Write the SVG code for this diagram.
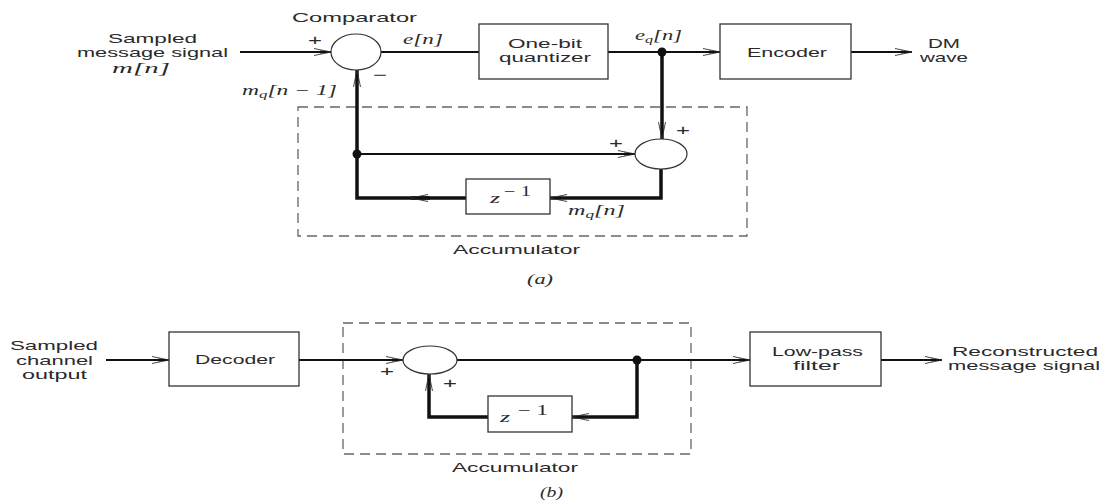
<svg xmlns="http://www.w3.org/2000/svg" width="1104" height="502" viewBox="0 0 1104 502">
<defs>
<style>
.s{font-family:"Liberation Sans",Arial,sans-serif;font-size:13px;fill:#2a2a2a}
.p{font-family:"Liberation Sans",Arial,sans-serif;font-size:15px;fill:#2a2a2a}
.m{font-family:"Liberation Serif","Times New Roman",serif;font-style:italic;font-size:14px;fill:#2a2a2a}
.r{font-family:"Liberation Serif","Times New Roman",serif;font-size:14px;fill:#2a2a2a}
.box{fill:#fff;stroke:#333;stroke-width:1.3}
.sum{fill:#fff;stroke:#333;stroke-width:1.2}
.ln{fill:none;stroke:#111;stroke-width:2}
.tk{fill:none;stroke:#111;stroke-width:3.5}
.dash{fill:none;stroke:#666;stroke-width:1.3;stroke-dasharray:10 6}
</style>
<marker id="ar" viewBox="0 0 18 10" markerWidth="18" markerHeight="10" refX="17" refY="5" orient="auto" markerUnits="userSpaceOnUse">
<path d="M0,1.5 L17,5 L0,8.5" fill="none" stroke="#333" stroke-width="0.9"/>
<path d="M6,3.6 L17,5 L6,6.4 Z" fill="#111"/>
</marker>
</defs>
<rect width="1104" height="502" fill="#fff"/>

<!-- (a) accumulator dashed box -->
<rect id="acc-a" class="dash" x="298" y="107" width="449" height="129"/>
<!-- (b) accumulator dashed box -->
<rect id="acc-b" class="dash" x="343" y="323" width="348" height="131"/>

<g id="connectors">
<!-- (a) -->
<line class="ln" x1="240" y1="52" x2="331" y2="52" marker-end="url(#ar)"/>
<line class="ln" x1="381" y1="52" x2="479" y2="52"/>
<line class="ln" x1="608" y1="52" x2="720" y2="52" marker-end="url(#ar)"/>
<line class="ln" x1="851" y1="52" x2="912" y2="52" marker-end="url(#ar)"/>
<line class="tk" x1="662" y1="52" x2="662" y2="139" marker-end="url(#ar)"/>
<line class="ln" x1="357" y1="154" x2="635" y2="154" marker-end="url(#ar)"/>
<polyline class="tk" points="661,169 661,198 550,198" marker-end="url(#ar)"/>
<polyline class="tk" points="466,198 357,198 357,70" marker-end="url(#ar)"/>
<line class="tk" x1="430" y1="198" x2="411" y2="198" marker-end="url(#ar)"/>
<circle cx="662" cy="52" r="4.5" fill="#111"/>
<circle cx="357" cy="154" r="4.5" fill="#111"/>
<!-- (b) -->
<line class="ln" x1="106" y1="360" x2="169" y2="360" marker-end="url(#ar)"/>
<line class="ln" x1="299" y1="360" x2="403" y2="360" marker-end="url(#ar)"/>
<line class="ln" x1="457" y1="360" x2="750" y2="360" marker-end="url(#ar)"/>
<line class="ln" x1="881" y1="360" x2="942" y2="360" marker-end="url(#ar)"/>
<polyline class="tk" points="637,360 637,417 572,417" marker-end="url(#ar)"/>
<polyline class="tk" points="488,417 429,417 429,374" marker-end="url(#ar)"/>
<circle cx="637" cy="360" r="4.5" fill="#111"/>
</g>

<!-- (a) nodes -->
<g id="comparator">
<ellipse class="sum" cx="356" cy="52" rx="25" ry="18"/>
<text class="s" x="292" y="22" textLength="125" lengthAdjust="spacingAndGlyphs">Comparator</text>
<text class="p" x="308" y="45" textLength="14" lengthAdjust="spacingAndGlyphs">+</text>
<text class="p" x="373" y="80" textLength="14" lengthAdjust="spacingAndGlyphs">−</text>
</g>
<g id="input-a">
<text class="s" x="108" y="43" textLength="89" lengthAdjust="spacingAndGlyphs">Sampled</text>
<text class="s" x="77" y="57" textLength="151" lengthAdjust="spacingAndGlyphs">message signal</text>
<text class="m" x="112" y="73" textLength="58" lengthAdjust="spacingAndGlyphs">m<tspan class="r">[</tspan>n<tspan class="r">]</tspan></text>
</g>
<text class="m" x="403" y="44" textLength="40" lengthAdjust="spacingAndGlyphs">e<tspan class="r">[</tspan>n<tspan class="r">]</tspan></text>
<g id="quantizer">
<rect class="box" x="479" y="24" width="129" height="55"/>
<text class="s" x="508" y="48" textLength="74" lengthAdjust="spacingAndGlyphs">One-bit</text>
<text class="s" x="499" y="62" textLength="92" lengthAdjust="spacingAndGlyphs">quantizer</text>
</g>
<text class="m" x="635" y="40" textLength="47" lengthAdjust="spacingAndGlyphs">e<tspan font-size="10" dy="3">q</tspan><tspan class="r" dy="-3">[</tspan>n<tspan class="r">]</tspan></text>
<g id="encoder">
<rect class="box" x="720" y="24" width="131" height="55"/>
<text class="s" x="747" y="57" textLength="80" lengthAdjust="spacingAndGlyphs">Encoder</text>
</g>
<g id="output-a">
<text class="s" x="928" y="48" textLength="32" lengthAdjust="spacingAndGlyphs">DM</text>
<text class="s" x="920" y="62" textLength="48" lengthAdjust="spacingAndGlyphs">wave</text>
</g>
<text class="m" x="242" y="95" textLength="95" lengthAdjust="spacingAndGlyphs">m<tspan font-size="10" dy="3">q</tspan><tspan class="r" dy="-3">[</tspan>n <tspan class="r">− 1]</tspan></text>
<g id="adder-a">
<ellipse class="sum" cx="661" cy="154" rx="26" ry="15"/>
<text class="p" x="676" y="135" textLength="14" lengthAdjust="spacingAndGlyphs">+</text>
<text class="p" x="609" y="148" textLength="14" lengthAdjust="spacingAndGlyphs">+</text>
</g>
<g id="delay-a">
<rect class="box" x="466" y="179" width="84" height="35"/>
<text class="m" x="490" y="203" textLength="10" lengthAdjust="spacingAndGlyphs">z</text>
<text class="r" x="504" y="196" textLength="27" lengthAdjust="spacingAndGlyphs">− 1</text>
</g>
<text class="m" x="568" y="215" textLength="57" lengthAdjust="spacingAndGlyphs">m<tspan font-size="10" dy="3">q</tspan><tspan class="r" dy="-3">[</tspan>n<tspan class="r">]</tspan></text>
<text class="s" x="453" y="254" textLength="127" lengthAdjust="spacingAndGlyphs">Accumulator</text>
<text class="m" x="527" y="284" textLength="26" lengthAdjust="spacingAndGlyphs"><tspan class="r">(</tspan>a<tspan class="r">)</tspan></text>

<!-- (b) nodes -->
<g id="input-b">
<text class="s" x="10" y="350" textLength="88" lengthAdjust="spacingAndGlyphs">Sampled</text>
<text class="s" x="16" y="365" textLength="77" lengthAdjust="spacingAndGlyphs">channel</text>
<text class="s" x="22" y="379" textLength="65" lengthAdjust="spacingAndGlyphs">output</text>
</g>
<g id="decoder">
<rect class="box" x="169" y="332" width="130" height="54"/>
<text class="s" x="195" y="364" textLength="80" lengthAdjust="spacingAndGlyphs">Decoder</text>
</g>
<g id="adder-b">
<ellipse class="sum" cx="430" cy="360" rx="27" ry="14"/>
<text class="p" x="380" y="376" textLength="14" lengthAdjust="spacingAndGlyphs">+</text>
<text class="p" x="443" y="388" textLength="14" lengthAdjust="spacingAndGlyphs">+</text>
</g>
<g id="delay-b">
<rect class="box" x="488" y="396" width="84" height="36"/>
<text class="m" x="500" y="422" textLength="10" lengthAdjust="spacingAndGlyphs">z</text>
<text class="r" x="518" y="415" textLength="30" lengthAdjust="spacingAndGlyphs">− 1</text>
</g>
<text class="s" x="452" y="472" textLength="126" lengthAdjust="spacingAndGlyphs">Accumulator</text>
<text class="m" x="540" y="497" textLength="23" lengthAdjust="spacingAndGlyphs"><tspan class="r">(</tspan>b<tspan class="r">)</tspan></text>
<g id="lowpass">
<rect class="box" x="750" y="332" width="131" height="54"/>
<text class="s" x="772" y="356" textLength="91" lengthAdjust="spacingAndGlyphs">Low-pass</text>
<text class="s" x="793" y="370" textLength="47" lengthAdjust="spacingAndGlyphs">filter</text>
</g>
<g id="output-b">
<text class="s" x="952" y="356" textLength="146" lengthAdjust="spacingAndGlyphs">Reconstructed</text>
<text class="s" x="948" y="370" textLength="152" lengthAdjust="spacingAndGlyphs">message signal</text>
</g>
</svg>
